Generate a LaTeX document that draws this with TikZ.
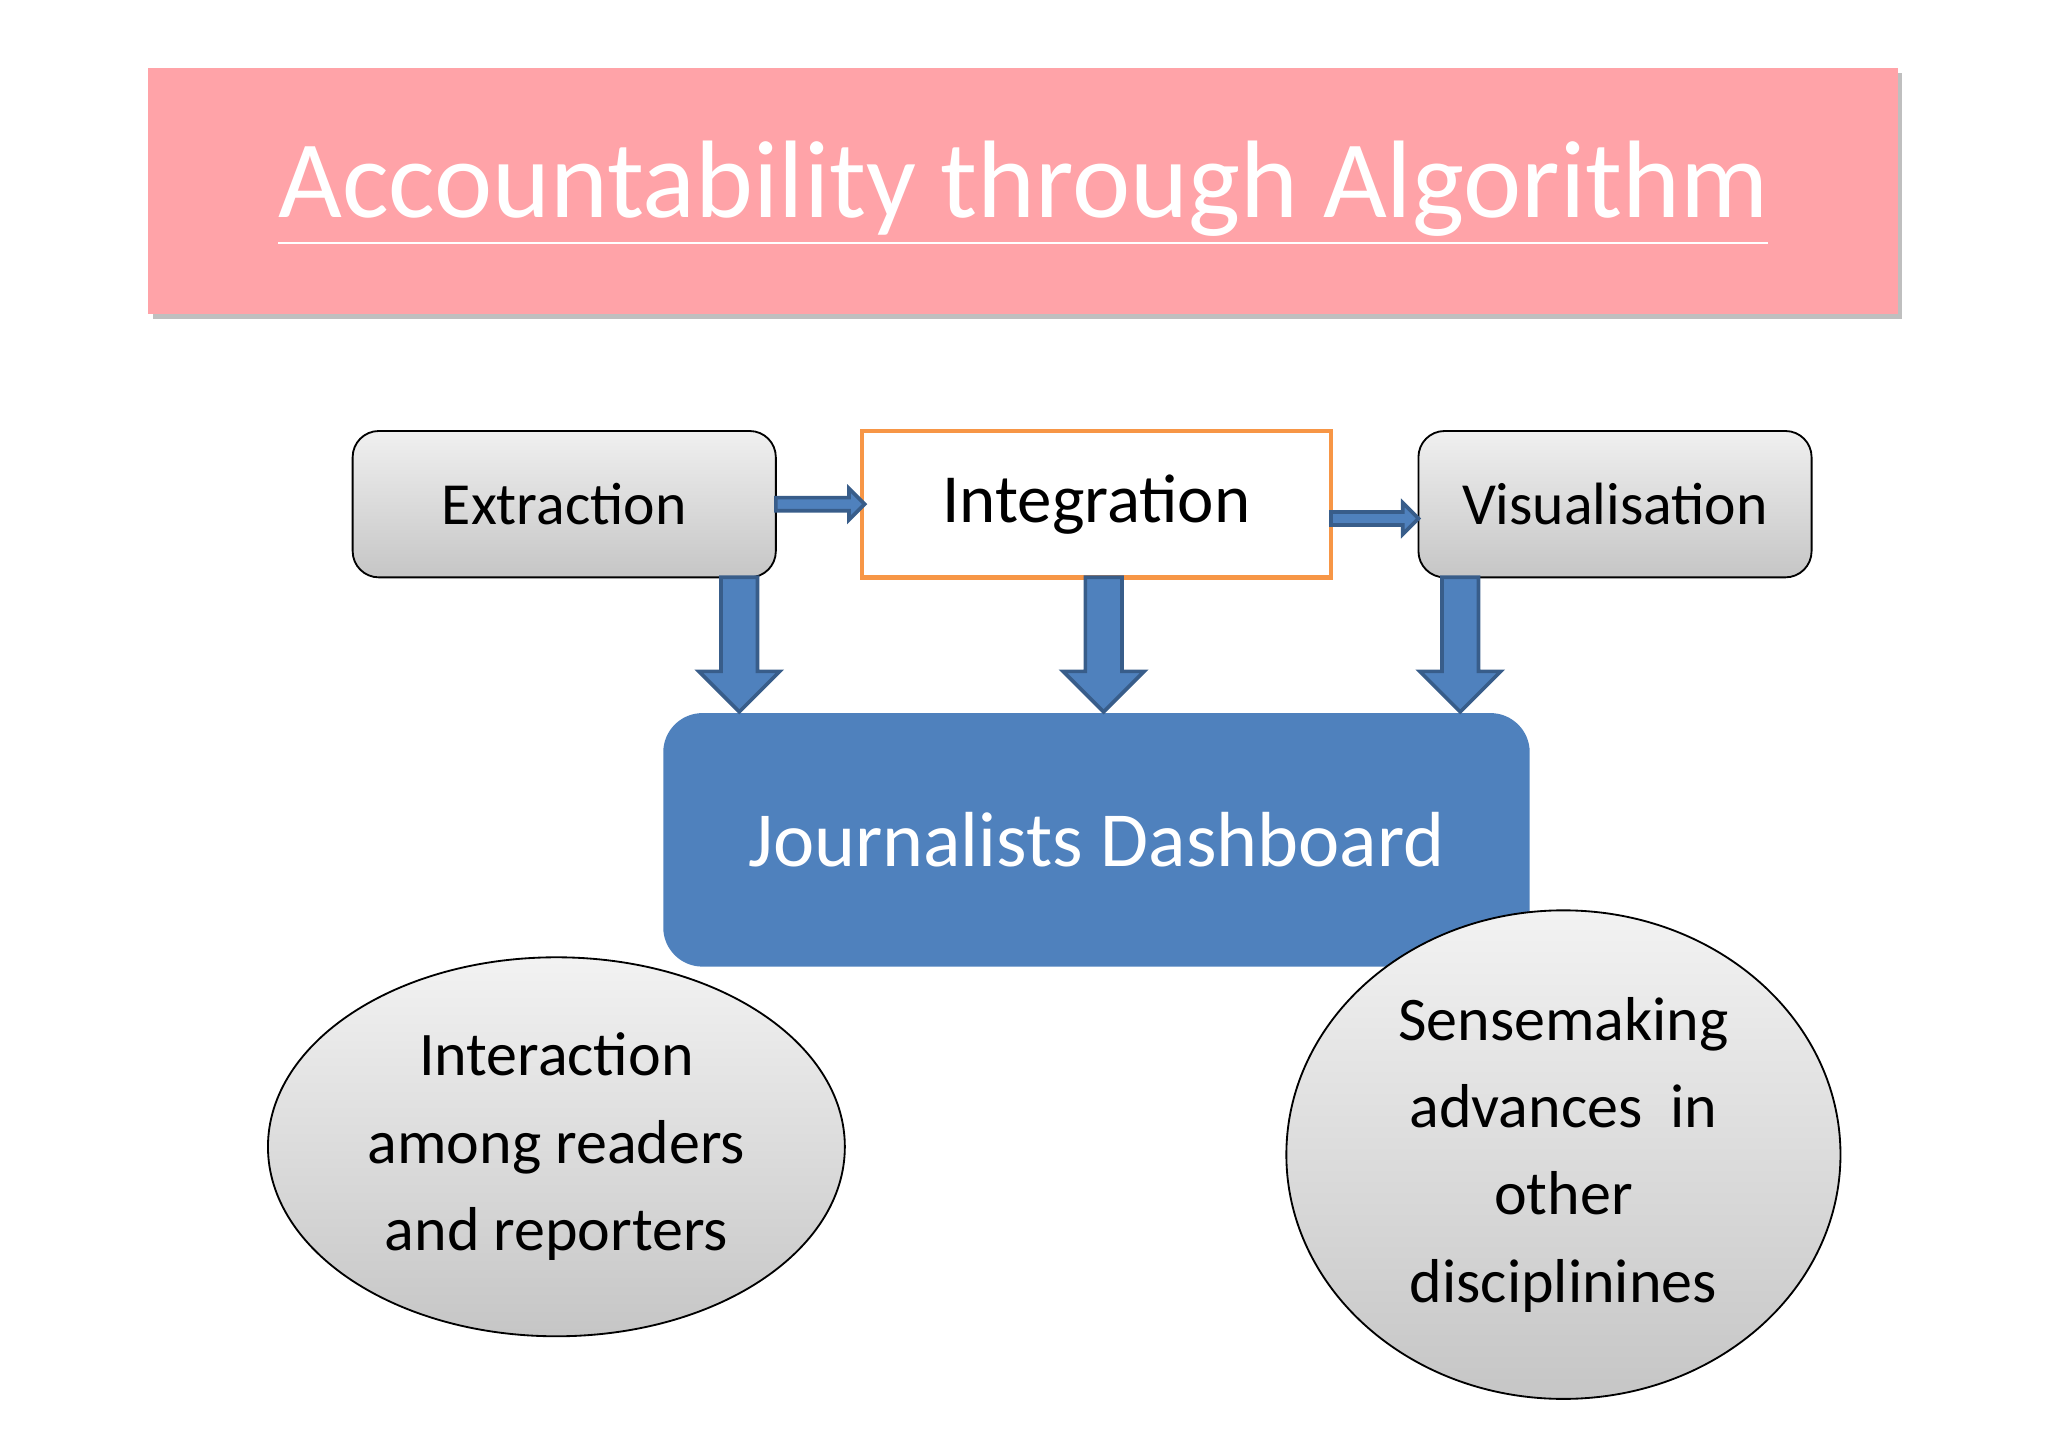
\documentclass[tikz,border=0pt]{standalone}
\usepackage{fontspec}
\setmainfont{Carlito}
\usetikzlibrary{calc,shadows,shapes.geometric}
\definecolor{pinkf}{HTML}{FFA3A8}
\definecolor{blu}{HTML}{4F81BD}
\definecolor{blud}{HTML}{385D8A}
\definecolor{org}{HTML}{F79646}
\begin{document}
\begin{tikzpicture}[x=0.01cm,y=-0.01cm,
 gbox/.style={draw=black,rounded corners=0.2cm,top color=gray!12,bottom color=gray!45,minimum width=#1*0.01cm,minimum height=1.12cm,font=\fontsize{13}{15}\selectfont},
 ell/.style={ellipse,draw=black,top color=gray!10,bottom color=gray!45,align=center,font=\fontsize{13.5}{19}\selectfont},
 barrow/.style={fill=blu,draw=blud,line width=0.8pt}]
\useasboundingbox (0,0) rectangle (1568,1108);
\fill[gray!50] (117,56) rectangle (1456,244);
\node[fill=pinkf,minimum width=13.39cm,minimum height=1.88cm] (title) at (783.5,146) {};
\node[text=white,font=\fontsize{24}{28}\selectfont] at (783.5,148) {\underline{Accountability through Algorithm}};
\node[gbox=324] (ext) at (432,386) {Extraction};
\node[draw=org,line width=1pt,fill=white,minimum width=3.59cm,minimum height=1.12cm,font=\fontsize{15}{18}\selectfont] (int) at (839.5,386) {Integration};
\node[gbox=301] (vis) at (1236.5,386) {Visualisation};
\node[fill=blu,rounded corners=0.3cm,minimum width=6.63cm,minimum height=1.94cm,text=white,font=\fontsize{17}{20}\selectfont] (dash) at (839.5,643) {Journalists Dashboard};
\node[ell,minimum width=4.24cm,minimum height=2.9cm] (e1) at (426,878) {Interaction\\among readers\\and reporters};
\node[ell,minimum width=4.24cm,minimum height=2.8cm] (e2) at (1197,884) {Sensemaking\\advances~ in\\other\\disciplinines};
% right arrows
\draw[barrow] (594,381) -- (650,381) -- (650,374) -- (662,386) -- (650,398) -- (650,391) -- (594,391) -- cycle;
\draw[barrow] (1019,392) -- (1074,392) -- (1074,385) -- (1086,397) -- (1074,409) -- (1074,402) -- (1019,402) -- cycle;
% down arrows
\foreach \x in {566,845,1118}{
 \draw[barrow] (\x-14,442) -- (\x+14,442) -- (\x+14,514) -- (\x+31,514) -- (\x,545) -- (\x-31,514) -- (\x-14,514) -- cycle;}
\end{tikzpicture}
\end{document}
